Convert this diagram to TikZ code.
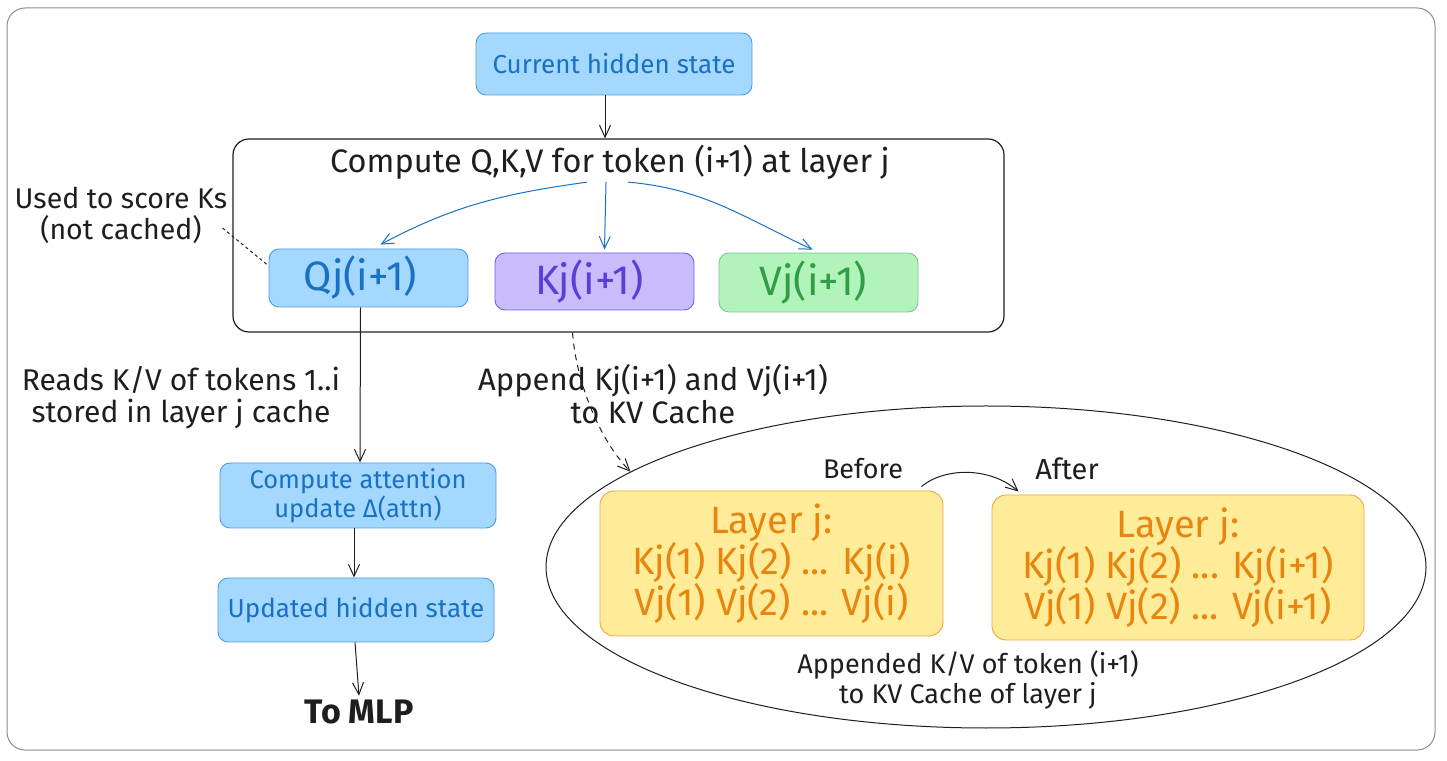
\documentclass[tikz,border=0pt]{standalone}
\usepackage{fontspec}
\setmainfont{Fira Sans}
\usetikzlibrary{arrows.meta,shapes.geometric}
\definecolor{ink}{HTML}{1E1E1E}
\definecolor{framegray}{HTML}{8C8C8C}
\definecolor{bluefill}{HTML}{A5D8FF}
\definecolor{blueline}{HTML}{4A9BE8}
\definecolor{bluetext}{HTML}{1971C2}
\definecolor{purplefill}{HTML}{C9BCFB}
\definecolor{purpleline}{HTML}{7A5CE6}
\definecolor{purpletext}{HTML}{5B3ED6}
\definecolor{greenfill}{HTML}{B2F2BB}
\definecolor{greenline}{HTML}{7CC98A}
\definecolor{greentext}{HTML}{2F9E44}
\definecolor{yellowfill}{HTML}{FFEC99}
\definecolor{yellowline}{HTML}{F2A33A}
\definecolor{orangetext}{HTML}{E8850F}
\begin{document}
\begin{tikzpicture}[x=1pt, y=1pt,
            block/.style={rectangle, rounded corners=10pt, inner sep=0pt, line width=0.9pt, align=center},
            blueblock/.style={block, fill=bluefill, draw=blueline, text=bluetext},
            cachebox/.style={block, rounded corners=14pt, fill=yellowfill, draw=yellowline, text=orangetext,
                minimum width=343pt, minimum height=145pt, font=\fontsize{38}{41}\selectfont},
            note/.style={align=center, text=ink, inner sep=0pt, font=\fontsize{30}{32}\selectfont},
            arrow/.style={-{Straight Barb[length=12pt, width=11pt]}, line width=1pt, draw=ink},
            bluearrow/.style={arrow, draw=bluetext}
        ]
            \useasboundingbox (0,0) rectangle (1447,760);
            \draw[framegray, line width=1pt, rounded corners=18pt] (7,10) rectangle (1435,752);

            \node[blueblock, minimum width=276pt, minimum height=62pt, font=\fontsize{26}{30}\selectfont] (cur) at (614,696) {Current hidden state};
            \node[block, draw=ink, line width=1.2pt, rounded corners=16pt, minimum width=771pt, minimum height=193pt] (qkv) at (618.5,524.5) {};
            \node[note, anchor=base, font=\fontsize{32.5}{36}\selectfont] (title) at (610,587) {Compute Q,K,V for token (i+1) at layer j};

            \node[blueblock, minimum width=199pt, minimum height=58pt, font=\fontsize{41}{44}\selectfont] (q) at (368.5,482) {\hspace*{-16pt}Qj(i+1)};
            \node[block, fill=purplefill, draw=purpleline, text=purpletext, minimum width=199pt, minimum height=57pt, font=\fontsize{41}{44}\selectfont] (k) at (594.5,478.5) {\hspace*{-10pt}Kj(i+1)};
            \node[block, fill=greenfill, draw=greenline, text=greentext, minimum width=199pt, minimum height=59pt, font=\fontsize{41}{44}\selectfont] (v) at (818.5,477.5) {\hspace*{-10pt}Vj(i+1)};

            \node[note, font=\fontsize{28.5}{31}\selectfont] (used) at (121,545) {Used to score Ks\\(not cached)};
            \node[note] (reads) at (181,362) {Reads K/V of tokens 1..i\\stored in layer j cache};
            \node[note, font=\fontsize{31}{33}\selectfont] (append) at (653,366) {Append Kj(i+1) and Vj(i+1)\\to KV Cache};

            \node[blueblock, minimum width=276pt, minimum height=65pt, font=\fontsize{25.5}{29}\selectfont] (attn) at (358,264.5) {Compute attention\\update Δ(attn)};
            \node[blueblock, minimum width=276pt, minimum height=64pt, font=\fontsize{26}{30}\selectfont] (upd) at (356,150) {Updated hidden state};
            \node[note, font=\fontsize{34}{36}\selectfont\bfseries] (mlp) at (359,48) {To MLP};

            \node[draw=ink, line width=1pt, ellipse, minimum width=880pt, minimum height=322pt, inner sep=0pt] (cache) at (986,193) {};
            \node[cachebox] (before) at (771.5,196.5) {Layer j:\\Kj(1) Kj(2) ... Kj(i)\\Vj(1) Vj(2) ... Vj(i)};
            \node[cachebox, minimum width=372pt] (after) at (1178,192.5) {Layer j:\\Kj(1) Kj(2) ... Kj(i+1)\\Vj(1) Vj(2) ... Vj(i+1)};
            \node[note, font=\fontsize{27}{30}\selectfont] (beforelbl) at (863,291) {Before};
            \node[note, font=\fontsize{29}{30}\selectfont] (afterlbl) at (1067,291) {After};
            \node[note, font=\fontsize{27}{30}\selectfont] (appended) at (968,80) {Appended K/V of token (i+1)\\to KV Cache of layer j};

            \draw[arrow] ([xshift=-9pt]cur.south) -- ([xshift=-9pt]cur.south |- qkv.north);
            \draw[bluearrow] ([xshift=-23pt, yshift=-2pt]title.south) to[out=188, in=28] ([xshift=12pt, yshift=4pt]q.north);
            \draw[bluearrow] ([xshift=-4pt, yshift=-2pt]title.south) -- ([xshift=10pt, yshift=3pt]k.north);
            \draw[bluearrow] ([xshift=18pt, yshift=-2pt]title.south) to[out=-5, in=155] ([xshift=-6pt, yshift=3pt]v.north);
            \draw[ink, line width=1pt, dashed] ([xshift=-5pt, yshift=-13pt]used.east) -- ([xshift=-1pt, yshift=13pt]q.west);
            \draw[arrow] ([xshift=-8pt]q.south) -- ([xshift=2pt]attn.north);
            \draw[arrow] ([xshift=-4pt]attn.south) -- ([xshift=-2pt]upd.north);
            \draw[arrow] ([xshift=-1pt]upd.south) -- ([yshift=4pt]mlp.north);
            \draw[arrow, dash pattern=on 6pt off 5pt] ([xshift=-46pt]qkv.south) .. controls (576,380) and (598,322) .. (cache.165);
            \draw[arrow] ([xshift=-22pt, yshift=4pt]before.north east) .. controls (945,293) and (990,293) .. ([xshift=27pt, yshift=3pt]after.north west);
        \end{tikzpicture}
\end{document}
